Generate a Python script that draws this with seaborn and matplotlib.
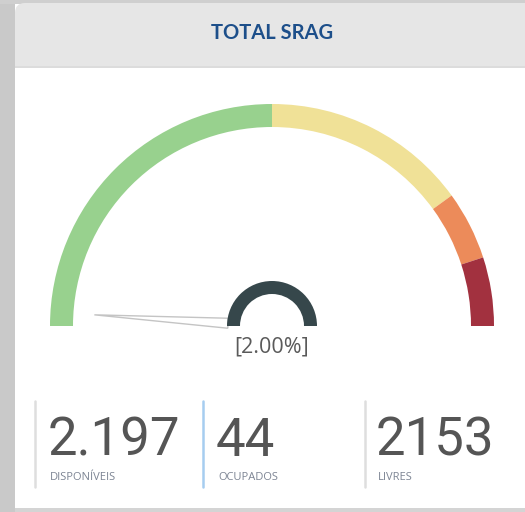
import matplotlib
matplotlib.use('Agg')
import matplotlib.pyplot as plt
from matplotlib.patches import Wedge, Polygon, Rectangle, FancyBboxPatch
import numpy as np
import seaborn as sns

# gauge data
band_edges = [0, 50, 80, 90, 100]
band_colors = ['#98d18e', '#f0e197', '#ec8b5a', '#a2313f']
gauge_value = 2.00
gauge_label = '[2.00%]'
title = 'TOTAL SRAG'

# cards at the bottom
card_values = ['2.197', '44', '2153']
card_labels = ['DISPONÍVEIS', 'OCUPADOS', 'LIVRES']

sns.set_theme(style='white')
plt.rcParams['font.family'] = ['Open Sans', 'DejaVu Sans']

fig = plt.figure(figsize=(5.25, 5.12), dpi=100, facecolor='white')
ax = fig.add_axes([0, 0, 1, 1])
ax.set_xlim(0, 525)
ax.set_ylim(512, 0)
ax.axis('off')

# panel background: grey frame on the left / top, light header, white body
ax.add_patch(Rectangle((0, 0), 15, 512, color='#c9c9c9', lw=0, zorder=0, clip_on=False))
ax.add_patch(Rectangle((0, 0), 525, 4, color='#cfcfcf', lw=0, zorder=0, clip_on=False))
ax.add_patch(FancyBboxPatch((15, 3), 530, 90, boxstyle='round,pad=0,rounding_size=10',
                            color='#e6e6e6', lw=0, zorder=1, clip_on=False))
ax.add_patch(Rectangle((15, 67), 530, 441, color='white', lw=0, zorder=2, clip_on=False))
ax.add_patch(Rectangle((15, 66), 530, 1.5, color='#dcdcdc', lw=0, zorder=2, clip_on=False))
ax.add_patch(Rectangle((15, 508), 530, 10, color='#d4d4d4', lw=0, zorder=2, clip_on=False))

ax.text(272, 33, title, ha='center', va='center', fontsize=14.5, fontweight='bold',
        color='#1d4f8a', family=['Lato', 'DejaVu Sans'], zorder=3)

# gauge bands
cx, cy = 272, 326
r_out, r_in = 222, 199
for i, col in enumerate(band_colors):
    a0 = 180 - band_edges[i] * 1.8
    a1 = 180 - band_edges[i + 1] * 1.8
    # y axis is inverted, so angles are mirrored
    ax.add_patch(Wedge((cx, cy), r_out, 360 - a0, 360 - a1, width=r_out - r_in,
                       color=col, zorder=3, lw=0))

# needle
ang = np.deg2rad(180 - gauge_value * 1.8)
tip = (cx + 178 * np.cos(ang), cy - 178 * np.sin(ang))
base = 44
bx, by = cx + base * np.cos(ang), cy - base * np.sin(ang)
px, py = np.sin(ang) * 5, np.cos(ang) * 5
ax.add_patch(Polygon([tip, (bx - px, by - py), (bx + px, by + py)], closed=True,
                     facecolor='white', edgecolor='#c4c4c4', lw=1, zorder=4))

# hub
ax.add_patch(Wedge((cx, cy), 45, 180, 360, width=13, color='#36474b', zorder=5, lw=0))
ax.text(cx, 347, gauge_label, ha='center', va='center', fontsize=15.5,
        color='#5a5a5a', zorder=5)

# cards
sep_x = [35, 203, 365]
sep_colors = ['#dedede', '#a6cdf0', '#dedede']
num_x = [50, 218, 378]
for x, c in zip(sep_x, sep_colors):
    ax.plot([x, x], [401, 487], color=c, lw=1.8, zorder=3)
for x, v, lab in zip(num_x, card_values, card_labels):
    ax.text(x - 2, 456, v, ha='left', va='baseline', fontsize=38, color='#555555',
            family=['Roboto', 'DejaVu Sans'], zorder=3)
    ax.text(x, 480, lab, ha='left', va='baseline', fontsize=8, color='#7c8493',
            family=['Open Sans', 'DejaVu Sans'], zorder=3)

fig.savefig('out.png', dpi=100, facecolor='white')
